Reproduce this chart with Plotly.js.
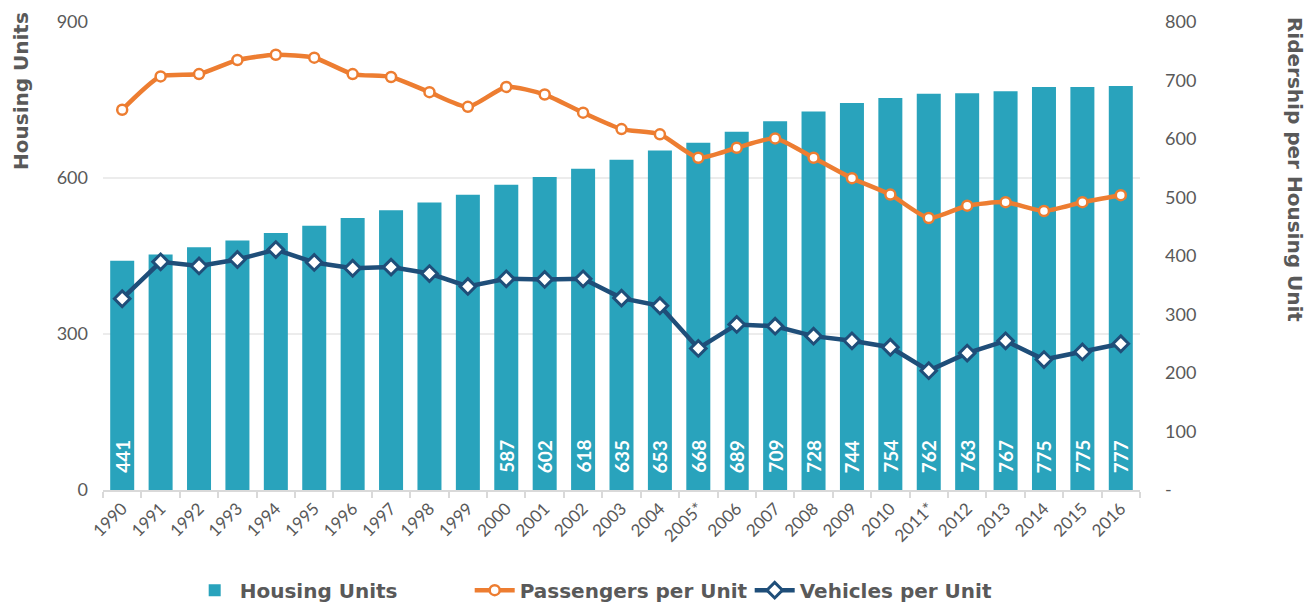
<!DOCTYPE html>
<html>
<head>
<meta charset="utf-8">
<script src="https://cdn.plot.ly/plotly-3.0.1.min.js"></script>
<style>html,body{margin:0;padding:0;background:#fff;}#chart{width:1309px;height:604px;}</style>
</head>
<body>
<div id="chart"></div>
<script>
const years = ["1990","1991","1992","1993","1994","1995","1996","1997","1998","1999","2000","2001","2002","2003","2004","2005*","2006","2007","2008","2009","2010","2011*","2012","2013","2014","2015","2016"];
const housingUnits = [441,453,467,480,494,508,523,538,553,568,587,602,618,635,653,668,689,709,728,744,754,762,763,767,775,775,777];
const labeledYears = ["1990","2000","2001","2002","2003","2004","2005*","2006","2007","2008","2009","2010","2011*","2012","2013","2014","2015","2016"];
const passengersPerUnit = [650,707,711,735,744,739,711,706,680,655,689,676,645,617,608,568,585,601,568,533,505,465,486,492,477,492,504];
const vehiclesPerUnit = [327,390,383,394,411,389,379,381,370,348,361,360,361,328,315,242,283,280,263,255,244,204,234,255,223,236,250];
const leftTicks = [0,300,600,900];
const rightTicks = [0,100,200,300,400,500,600,700,800];
const rightTickText = ["-","100","200","300","400","500","600","700","800"];

const GRAY = "#595959";
const FONT = "Lato, 'Open Sans', sans-serif";
const BOLDFONT = "'DejaVu Sans', sans-serif";

const traces = [
  {
    type: "bar", name: "Housing Units", x: years, y: housingUnits,
    marker: {color: "#29A3BC"}, yaxis: "y", hoverinfo: "x+y"
  },
  {
    type: "scatter", mode: "lines+markers", name: "Passengers per Unit",
    x: years, y: passengersPerUnit, yaxis: "y2",
    line: {color: "#ED7D31", width: 4.5, shape: "spline", smoothing: 0.6},
    marker: {symbol: "circle", size: 10, color: "#ffffff", line: {color: "#ED7D31", width: 2.5}}
  },
  {
    type: "scatter", mode: "lines+markers", name: "Vehicles per Unit",
    x: years, y: vehiclesPerUnit, yaxis: "y2",
    line: {color: "#1F4E79", width: 4.5},
    marker: {symbol: "diamond", size: 12, color: "#ffffff", line: {color: "#1F4E79", width: 3}}
  }
];

const annotations = [];
years.forEach((yr, i) => {
  if (labeledYears.indexOf(yr) >= 0) {
    annotations.push({
      x: i, y: 0, xref: "x", yref: "y", text: String(housingUnits[i]),
      showarrow: false, textangle: -90, yanchor: "bottom", xanchor: "center", yshift: 15,
      font: {family: FONT, size: 19, color: "#ffffff", weight: "bold"}
    });
  }
});
annotations.push({
  xref: "paper", yref: "paper", x: 0, y: 0.8526, xshift: -82, xanchor: "center", yanchor: "middle",
  text: "<b>Housing Units</b>", showarrow: false, textangle: -90,
  font: {family: BOLDFONT, size: 20, color: GRAY}
});
annotations.push({
  xref: "paper", yref: "paper", x: 1, y: 0.686, xshift: 155, xanchor: "center", yanchor: "middle",
  text: "<b>Ridership per Housing Unit</b>", showarrow: false, textangle: 90,
  font: {family: BOLDFONT, size: 20, color: GRAY}
});

const layout = {
  width: 1309, height: 604,
  margin: {l: 103, r: 169, t: 22, b: 114, autoexpand: false},
  paper_bgcolor: "#ffffff", plot_bgcolor: "#ffffff",
  font: {family: FONT, color: GRAY},
  bargap: 0.375,
  showlegend: true,
  legend: {
    orientation: "h", x: 0.0836, xanchor: "left", y: -0.214, yanchor: "middle",
    font: {family: BOLDFONT, size: 20, color: GRAY, weight: "bold"},
    traceorder: "normal", entrywidth: 225, entrywidthmode: "pixels", itemwidth: 40
  },
  xaxis: {
    type: "category", range: [-0.5, years.length - 0.5], autorange: false, automargin: false,
    tickangle: -45, tickson: "boundaries", ticks: "outside", ticklen: 6,
    tickcolor: "#d9d9d9", tickwidth: 2, showline: true, linecolor: "#d9d9d9", linewidth: 2,
    showgrid: false, tickfont: {family: FONT, size: 17, color: GRAY}
  },
  yaxis: {
    range: [0, 900], tickvals: leftTicks, showgrid: true, gridcolor: "#ececec", gridwidth: 2,
    zeroline: false, showline: false, ticks: "", ticklabelstandoff: 14, automargin: false,
    tickfont: {family: FONT, size: 18, color: GRAY}
  },
  yaxis2: {
    overlaying: "y", side: "right", range: [0, 800], tickvals: rightTicks, ticktext: rightTickText,
    showgrid: false, zeroline: false, showline: false, ticks: "", ticklabelstandoff: 24, automargin: false,
    tickfont: {family: FONT, size: 18, color: GRAY}
  },
  annotations: annotations
};

Plotly.newPlot("chart", traces, layout, {displayModeBar: false, staticPlot: true});
</script>
</body>
</html>
